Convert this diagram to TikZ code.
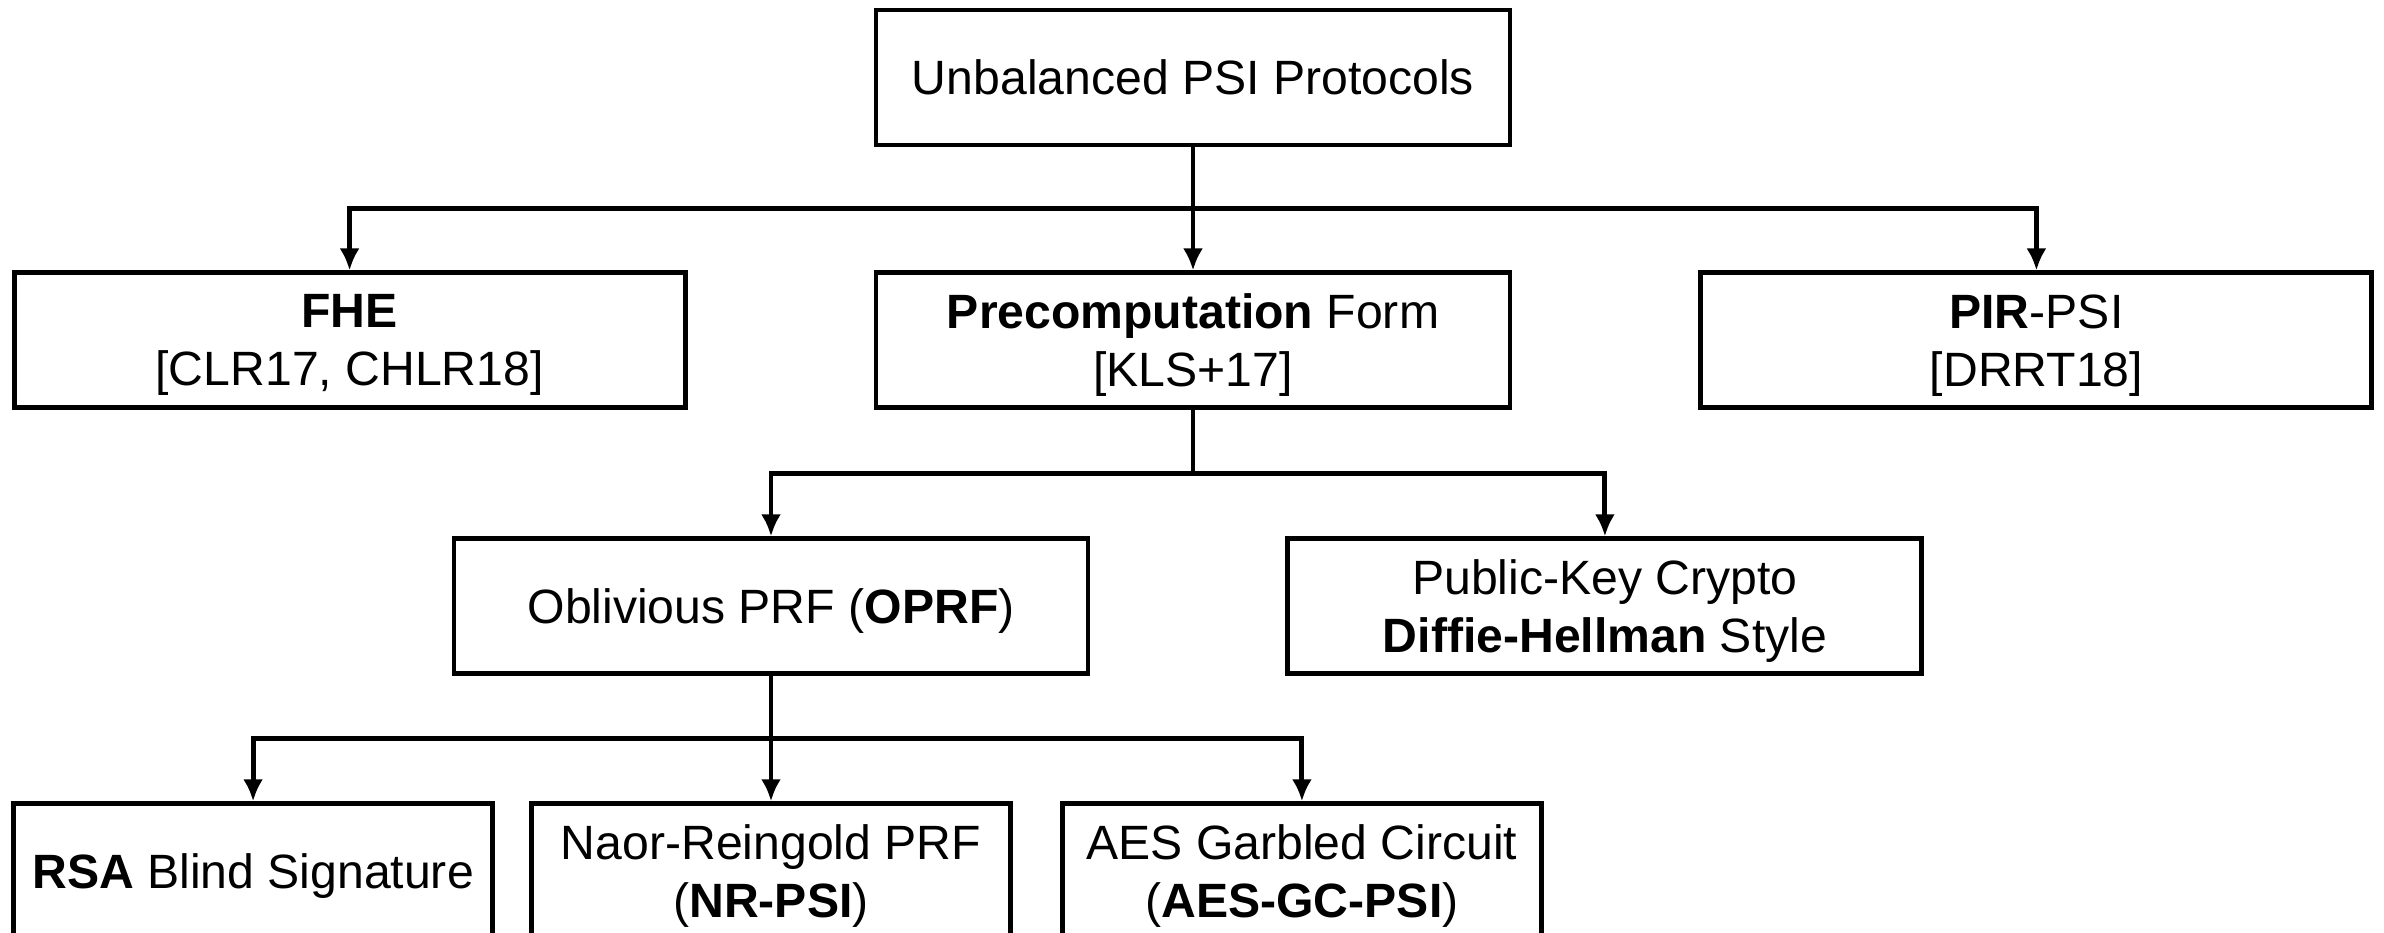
\documentclass[tikz,border=0pt]{standalone}
\usepackage{fontspec}
\setmainfont{Liberation Sans}
\usetikzlibrary{arrows.meta, positioning, calc}
\tikzset{
  box/.style={draw=black, line width=1.4pt, align=center, inner sep=0pt,
    minimum height=1.35cm, text depth=0pt, font=\fontsize{13.7}{16.5}\selectfont},
  widebox/.style={box, minimum width=6.71cm},
  midbox/.style={box, minimum width=6.34cm},
  leafbox/.style={box, minimum width=4.79cm},
  flow/.style={-{Latex[length=2.2mm, width=2mm]}, line width=1.4pt, draw=black},
  bus/.style={line width=1.4pt, draw=black},
}
\begin{document}
\begin{tikzpicture}
  \useasboundingbox (0,0) rectangle (23.84,-9.33);

  % ----------------------------------------------------------------
  % Root
  % ----------------------------------------------------------------
  \node[midbox] (root) at (11.93,-0.775) {Unbalanced PSI Protocols};

  % ----------------------------------------------------------------
  % First level
  % ----------------------------------------------------------------
  \node[midbox, below=1.23cm of root] (precomp)
    {\textbf{Precomputation} Form\\ {[KLS+17]}};
  \node[widebox, left=1.86cm of precomp]  (fhe) {\textbf{FHE}\\ {[CLR17, CHLR18]}};
  \node[widebox, right=1.86cm of precomp] (pir) {\textbf{PIR}-PSI\\ {[DRRT18]}};

  % ----------------------------------------------------------------
  % Second level
  % ----------------------------------------------------------------
  \node[midbox, below=1.26cm of precomp, xshift=-4.22cm] (oprf)
    {Oblivious PRF (\textbf{OPRF})};
  \node[midbox, right=1.95cm of oprf] (pkc)
    {Public-Key Crypto\\ \textbf{Diffie-Hellman} Style};

  % ----------------------------------------------------------------
  % Third level
  % ----------------------------------------------------------------
  \node[leafbox, below=1.25cm of oprf] (nr)
    {Naor-Reingold PRF\\ (\textbf{NR-PSI})};
  \node[leafbox, left=0.34cm of nr]  (rsa) {\textbf{RSA} Blind Signature};
  \node[leafbox, right=0.47cm of nr] (aes)
    {AES Garbled Circuit\\ (\textbf{AES-GC-PSI})};

  % ----------------------------------------------------------------
  % Arrows
  % ----------------------------------------------------------------
  \coordinate (j1) at ($(root.south)!0.5!(precomp.north)$);
  \draw[flow] (root) -- (precomp);
  \draw[flow] (j1) -| (fhe.north);
  \draw[flow] (j1) -| (pir.north);

  \coordinate (j2) at ($(precomp.south)!0.5!(precomp.south |- oprf.north)$);
  \draw[bus] (precomp.south) -- (j2);
  \draw[flow] (j2) -| (oprf.north);
  \draw[flow] (j2) -| (pkc.north);

  \coordinate (j3) at ($(oprf.south)!0.5!(nr.north)$);
  \draw[flow] (oprf) -- (nr);
  \draw[flow] (j3) -| (rsa.north);
  \draw[flow] (j3) -| (aes.north);

\end{tikzpicture}
\end{document}
